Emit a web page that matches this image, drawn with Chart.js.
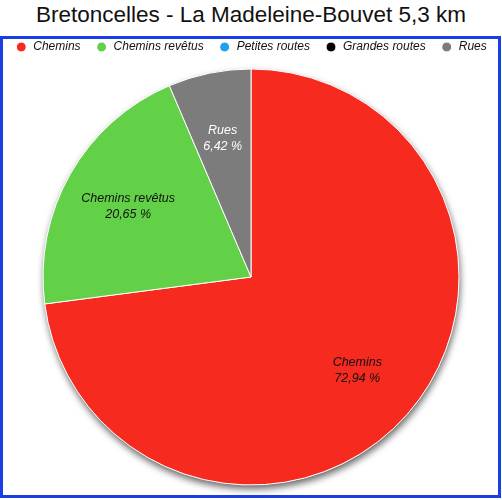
<!DOCTYPE html>
<html>
<head>
<meta charset="utf-8">
<script src="https://cdn.jsdelivr.net/npm/chart.js@4.4.1/dist/chart.umd.min.js"></script>
<style>
  html, body { margin: 0; padding: 0; background: #fff; }
  body { width: 502px; height: 500px; position: relative; overflow: hidden; font-family: "Liberation Sans", Arial, sans-serif; }
  #title { position: absolute; left: 0; top: 4px; width: 502px; text-align: center; font-size: 22.5px; line-height: 22px; color: #111; }
  #frame { position: absolute; left: 0; top: 36px; width: 501px; height: 462px; border: 3px solid #1a3ee6; box-sizing: border-box; }
  #pie { position: absolute; left: 0; top: 26px; }
</style>
</head>
<body>
<div id="title">Bretoncelles - La Madeleine-Bouvet 5,3 km</div>
<div id="frame"></div>
<canvas id="pie" width="502" height="474"></canvas>
<script>
const categories = ["Chemins", "Chemins revêtus", "Petites routes", "Grandes routes", "Rues"];
const shares = [72.94, 20.65, 0, 0, 6.42];
const colours = ["#f62a1f", "#62d148", "#1e9ff0", "#000000", "#7c7c7c"];
const labelColours = ["#111", "#111", "#111", "#fff", "#fff"];

// soft shadow under the whole disc, drawn once so slices don't shade each other
const pieShadow = {
    id: "pieShadow",
    beforeDatasetsDraw(chart) {
        const arc = chart.getDatasetMeta(0).data[0];
        if (!arc) return;
        const ctx = chart.ctx;
        ctx.save();
        ctx.shadowColor = "rgba(0,0,0,0.6)";
        ctx.shadowBlur = 7;
        ctx.shadowOffsetX = 1;
        ctx.shadowOffsetY = 4;
        ctx.fillStyle = "#fff";
        ctx.beginPath();
        ctx.arc(arc.x, arc.y, arc.outerRadius, 0, Math.PI * 2);
        ctx.fill();
        ctx.restore();
    }
};

const sliceLabels = {
    id: "sliceLabels",
    afterDatasetsDraw(chart) {
        const ctx = chart.ctx;
        chart.getDatasetMeta(0).data.forEach((arc, i) => {
            if (!shares[i]) return;
            const mid = (arc.startAngle + arc.endAngle) / 2;
            const r = arc.outerRadius * 0.68;
            const x = arc.x + Math.cos(mid) * r;
            const y = arc.y + Math.sin(mid) * r;
            ctx.save();
            ctx.font = "italic 12.5px 'Liberation Sans', Arial, sans-serif";
            ctx.fillStyle = labelColours[i];
            ctx.textAlign = "center";
            ctx.textBaseline = "middle";
            ctx.fillText(categories[i], x, y - 8);
            ctx.fillText(shares[i].toFixed(2).replace(".", ",") + " %", x, y + 8);
            ctx.restore();
        });
    }
};

new Chart(document.getElementById("pie"), {
    type: "pie",
    data: {
        labels: categories,
        datasets: [{
            data: shares,
            backgroundColor: colours,
            borderColor: "#ffffff",
            borderWidth: 1,
            radius: 208
        }]
    },
    options: {
        responsive: false,
        animation: false,
        layout: { padding: { bottom: 9 } },
        plugins: {
            tooltip: { enabled: false },
            legend: {
                position: "top",
                labels: {
                    usePointStyle: true,
                    pointStyle: "circle",
                    boxHeight: 7,
                    padding: 15,
                    color: "#111",
                    font: { family: "'Liberation Sans', Arial, sans-serif", size: 12, style: "italic" }
                }
            }
        }
    },
    plugins: [pieShadow, sliceLabels]
});
</script>
</body>
</html>
